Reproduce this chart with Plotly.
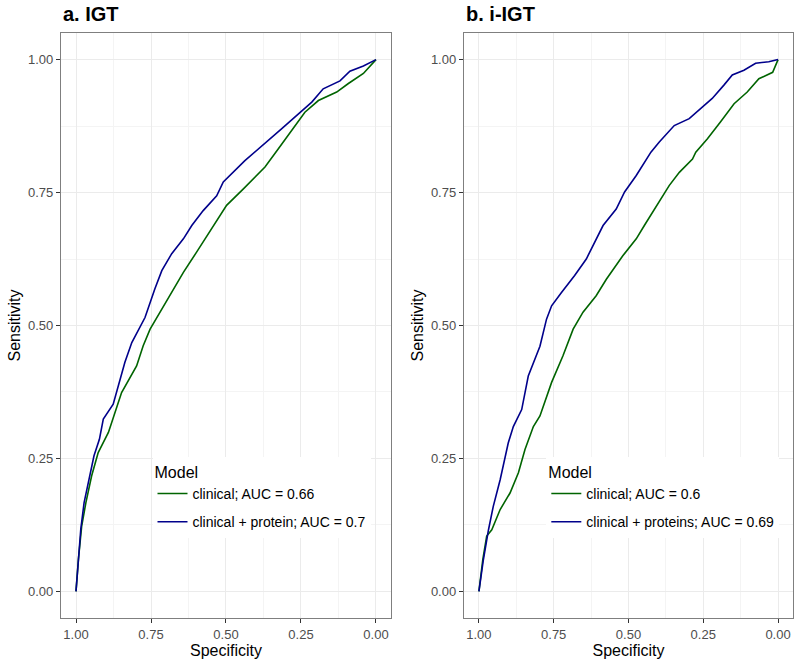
import plotly.graph_objects as go

# panel a. IGT  (specificity, sensitivity)
igt_clin_spec = [1.00, 0.992, 0.981, 0.967, 0.948, 0.926, 0.892, 0.848, 0.798, 0.776, 0.753, 0.714, 0.681,
                 0.642, 0.598, 0.548, 0.498, 0.442, 0.37, 0.326, 0.276, 0.237, 0.192, 0.131, 0.092, 0.042, 0.0]
igt_clin_sens = [0.00, 0.06, 0.123, 0.167, 0.217, 0.261, 0.299, 0.374, 0.424, 0.462, 0.493, 0.531, 0.563,
                 0.600, 0.638, 0.682, 0.726, 0.757, 0.798, 0.832, 0.87, 0.901, 0.923, 0.939, 0.955, 0.974, 1.0]

igt_prot_spec = [1.00, 0.992, 0.984, 0.973, 0.956, 0.94, 0.922, 0.909, 0.876, 0.837, 0.814, 0.77, 0.737, 0.714,
                 0.681, 0.642, 0.614, 0.576, 0.531, 0.509, 0.437, 0.376, 0.314, 0.264, 0.214, 0.176, 0.12,
                 0.087, 0.042, 0.0]
igt_prot_sens = [0.00, 0.06, 0.117, 0.167, 0.211, 0.255, 0.286, 0.324, 0.352, 0.431, 0.468, 0.515, 0.569, 0.603,
                 0.635, 0.663, 0.688, 0.716, 0.744, 0.770, 0.81, 0.839, 0.87, 0.895, 0.92, 0.945, 0.96,
                 0.978, 0.988, 1.0]

# panel b. i-IGT
iigt_clin_spec = [1.00, 0.987, 0.974, 0.957, 0.929, 0.896, 0.868, 0.846, 0.818, 0.796, 0.757, 0.719, 0.685,
                  0.652, 0.608, 0.574, 0.519, 0.474, 0.447, 0.397, 0.364, 0.33, 0.286, 0.275, 0.236, 0.192,
                  0.147, 0.103, 0.064, 0.018, 0.0]
iigt_clin_sens = [0.00, 0.06, 0.104, 0.116, 0.154, 0.185, 0.223, 0.267, 0.31, 0.33, 0.393, 0.443, 0.493,
                  0.525, 0.556, 0.587, 0.631, 0.663, 0.688, 0.732, 0.763, 0.788, 0.813, 0.826, 0.851, 0.883,
                  0.917, 0.939, 0.964, 0.976, 1.0]

iigt_prot_spec = [1.00, 0.985, 0.968, 0.952, 0.929, 0.902, 0.885, 0.857, 0.835, 0.796, 0.774, 0.757, 0.724,
                  0.68, 0.641, 0.613, 0.585, 0.541, 0.513, 0.474, 0.425, 0.397, 0.347, 0.297, 0.258, 0.22,
                  0.181, 0.153, 0.114, 0.075, 0.031, 0.0]
iigt_prot_sens = [0.00, 0.06, 0.116, 0.16, 0.21, 0.279, 0.31, 0.342, 0.405, 0.461, 0.512, 0.537, 0.562,
                  0.594, 0.625, 0.657, 0.688, 0.719, 0.751, 0.782, 0.826, 0.845, 0.876, 0.889, 0.908, 0.927,
                  0.952, 0.971, 0.98, 0.993, 0.996, 1.0]

GREEN = "#006400"
BLUE = "#00008b"
FONT = "Liberation Sans, Arial, sans-serif"

fig = go.Figure()
fig.add_trace(go.Scatter(x=igt_clin_spec, y=igt_clin_sens, mode="lines", name="clinical; AUC = 0.66",
                         line=dict(color=GREEN, width=1.6), xaxis="x", yaxis="y", legend="legend",
                         legendgroup="a1"))
fig.add_trace(go.Scatter(x=igt_prot_spec, y=igt_prot_sens, mode="lines", name="clinical + protein; AUC = 0.7",
                         line=dict(color=BLUE, width=1.6), xaxis="x", yaxis="y", legend="legend",
                         legendgroup="a2"))
fig.add_trace(go.Scatter(x=iigt_clin_spec, y=iigt_clin_sens, mode="lines", name="clinical; AUC = 0.6",
                         line=dict(color=GREEN, width=1.6), xaxis="x2", yaxis="y2", legend="legend2",
                         legendgroup="b1"))
fig.add_trace(go.Scatter(x=iigt_prot_spec, y=iigt_prot_sens, mode="lines", name="clinical + proteins; AUC = 0.69",
                         line=dict(color=BLUE, width=1.6), xaxis="x2", yaxis="y2", legend="legend2",
                         legendgroup="b2"))

ticks = [1.0, 0.75, 0.5, 0.25, 0.0]
tick_txt = ["1.00", "0.75", "0.50", "0.25", "0.00"]

def xax(domain, anchor):
    return dict(domain=domain, anchor=anchor, range=[1.05, -0.05], tickvals=ticks, ticktext=tick_txt,
                automargin=False,
                showline=True, mirror=True, linecolor="#7f7f7f", linewidth=1.3,
                ticks="outside", ticklen=4, tickcolor="#333333", tickwidth=1.1,
                tickfont=dict(size=13, color="#4d4d4d"), showgrid=True, gridcolor="#ebebeb", gridwidth=1,
                minor=dict(dtick=0.125, tick0=0, showgrid=True, gridcolor="#f4f4f4", gridwidth=0.6),
                zeroline=False, title=dict(text="Specificity", font=dict(size=16, color="black"), standoff=4))

def yax(domain, anchor):
    return dict(domain=domain, anchor=anchor, range=[-0.05, 1.05], tickvals=ticks, ticktext=tick_txt,
                automargin=False,
                showline=True, mirror=True, linecolor="#7f7f7f", linewidth=1.3,
                ticks="outside", ticklen=4, tickcolor="#333333", tickwidth=1.1,
                tickfont=dict(size=13, color="#4d4d4d"), showgrid=True, gridcolor="#ebebeb", gridwidth=1,
                minor=dict(dtick=0.125, tick0=0, showgrid=True, gridcolor="#f4f4f4", gridwidth=0.6),
                zeroline=False, title=dict(text="Sensitivity", font=dict(size=16, color="black"), standoff=3))

legend_common = dict(bgcolor="white", borderwidth=0, font=dict(size=14, color="black"),
                     title=dict(text="Model", font=dict(size=16, color="black")),
                     tracegroupgap=7, itemwidth=30, xanchor="left", yanchor="top", xref="paper", yref="paper")

fig.update_layout(
    width=800, height=666,
    margin=dict(l=61, r=7, t=33, b=48),
    paper_bgcolor="white", plot_bgcolor="white",
    font=dict(family=FONT),
    showlegend=True,
    xaxis=xax([0.0, 0.4508], "y"),
    yaxis=yax([0.0, 1.0], "x"),
    xaxis2=xax([0.5505, 1.0], "y2"),
    yaxis2=yax([0.0, 1.0], "x2"),
    legend=dict(x=0.125, y=0.275, **legend_common),
    legend2=dict(x=0.663, y=0.275, **legend_common),
    annotations=[
        dict(text="<b>a. IGT</b>", x=0.0, y=1.0, xref="paper", yref="paper", yshift=19,
             xanchor="left", yanchor="middle", showarrow=False, font=dict(size=20, color="black")),
        dict(text="<b>b. i-IGT</b>", x=0.5505, y=1.0, xref="paper", yref="paper", yshift=19,
             xanchor="left", yanchor="middle", showarrow=False, font=dict(size=20, color="black")),
    ],
)

fig.write_html("out.html", config={"displayModeBar": False},
               post_script="document.body.style.margin='0';")
